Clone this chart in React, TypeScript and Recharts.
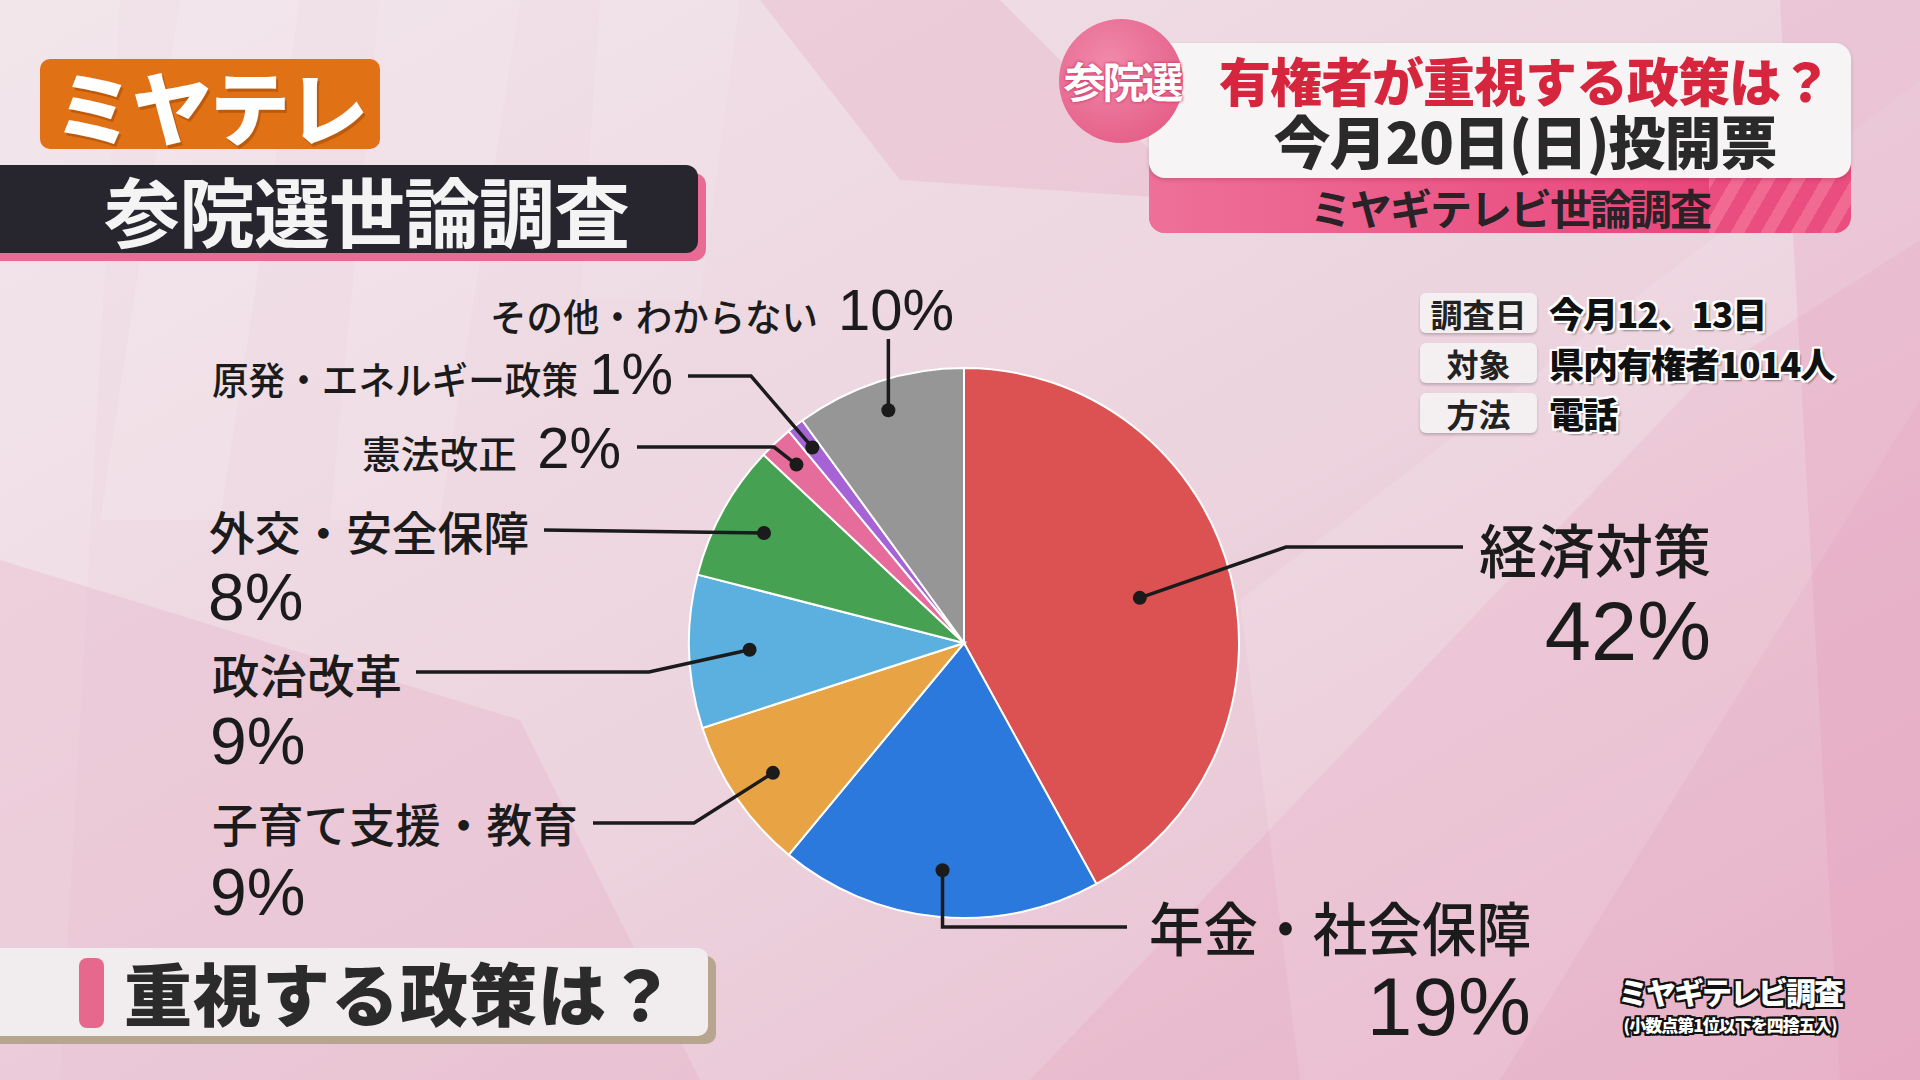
import React from "react"
import { PieChart, Pie, Cell } from "recharts"

// 重視する政策（ミヤギテレビ世論調査）
const policies = ["経済対策", "年金・社会保障", "子育て支援・教育", "政治改革", "外交・安全保障", "憲法改正", "原発・エネルギー政策", "その他・わからない"]
const shares = [42, 19, 9, 9, 8, 2, 1, 10]
const sliceColors = ["#dc5152", "#2b79dc", "#e8a444", "#5cb0df", "#46a152", "#e66c9c", "#a563d6", "#969696"]

const surveyRows = [
  ["調査日", "今月12、13日"],
  ["対象", "県内有権者1014人"],
  ["方法", "電話"],
]

const data = policies.map((name, i) => ({ name, value: shares[i] }))

// label placement (screen layout only)
type Pt = [number | null, number]
type Layout = {
  k: number
  pts: Pt[]
  nx: number // name x (anchor)
  ny: number
  nAnchor: "start" | "end"
  nw: number // name width
  px: number
  py: number
  pAnchor: "start" | "end"
  nameSize: number
  pctSize: number
}
const labelLayout: Layout[] = [
  { k: 0.66, pts: [[1286, 547], [1463, 547]], nx: 1479, ny: 548, nAnchor: "start", nw: 232, px: 1711, py: 631, pAnchor: "end", nameSize: 58, pctSize: 83 },
  { k: 0.83, pts: [[null, 927], [1127, 927]], nx: 1149, ny: 926, nAnchor: "start", nw: 382, px: 1531, py: 1006, pAnchor: "end", nameSize: 58, pctSize: 82 },
  { k: 0.84, pts: [[694, 823], [593, 823]], nx: 212, ny: 822, nAnchor: "start", nw: 366, px: 210, py: 892, pAnchor: "start", nameSize: 46, pctSize: 66 },
  { k: 0.78, pts: [[649, 672], [416, 672]], nx: 212, ny: 673, nAnchor: "start", nw: 190, px: 210, py: 741, pAnchor: "start", nameSize: 46, pctSize: 66 },
  { k: 0.83, pts: [[544, 530]], nx: 209, ny: 530, nAnchor: "start", nw: 320, px: 208, py: 597, pAnchor: "start", nameSize: 46, pctSize: 66 },
  { k: 0.89, pts: [[774, 447], [637, 447]], nx: 362, ny: 451, nAnchor: "start", nw: 155, px: 621, py: 447, pAnchor: "end", nameSize: 38, pctSize: 58 },
  { k: 0.9, pts: [[751, 376], [688, 376]], nx: 212, ny: 377, nAnchor: "start", nw: 366, px: 673, py: 373, pAnchor: "end", nameSize: 38, pctSize: 58 },
  { k: 0.89, pts: [[null, 339]], nx: 490, ny: 314, nAnchor: "start", nw: 328, px: 954, py: 309, pAnchor: "end", nameSize: 38, pctSize: 58 },
]

const RAD = Math.PI / 180
const jpFont = '"Noto Sans CJK JP", "Noto Sans", sans-serif'
const numFont = '"Liberation Sans", Arial, sans-serif'
const ink = "#1b1b1b"

const renderLabel = (props: any) => {
  const { cx, cy, midAngle, outerRadius, index, value, name } = props
  const L = labelLayout[index]
  const r = outerRadius * L.k
  const dx = cx + r * Math.cos(-midAngle * RAD)
  const dy = cy + r * Math.sin(-midAngle * RAD)
  const pts = [[dx, dy], ...L.pts.map(([x, y]) => [x === null ? dx : x, y])]
  return (
    <g key={`lbl-${index}`}>
      <polyline points={pts.map((p) => p.join(",")).join(" ")} fill="none" stroke={ink} strokeWidth={3.5} />
      <circle cx={dx} cy={dy} r={7} fill={ink} />
      <text
        x={L.nx}
        y={L.ny}
        textAnchor={L.nAnchor}
        dominantBaseline="central"
        fill={ink}
        fontFamily={jpFont}
        fontWeight={500}
        fontSize={L.nameSize}
        textLength={L.nw}
        lengthAdjust="spacingAndGlyphs"
      >
        {name}
      </text>
      <text x={L.px} y={L.py} textAnchor={L.pAnchor} dominantBaseline="central" fill={ink} fontFamily={numFont} fontSize={L.pctSize}>
        {value}%
      </text>
    </g>
  )
}

const Background = () => (
  <svg width={1920} height={1080} style={{ position: "absolute", left: 0, top: 0 }}>
    <defs>
      <linearGradient id="bg" x1="0" y1="0" x2="1" y2="1">
        <stop offset="0%" stopColor="#f1e3e9" />
        <stop offset="55%" stopColor="#ecd3de" />
        <stop offset="100%" stopColor="#e8b8cc" />
      </linearGradient>
    </defs>
    <rect width={1920} height={1080} fill="url(#bg)" />
    <polygon points="0,0 120,0 60,1080 0,1080" fill="#ffffff" opacity={0.12} />
    <polygon points="180,0 300,0 220,520 100,520" fill="#ffffff" opacity={0.14} />
    <polygon points="380,0 520,0 440,520 330,520" fill="#ffffff" opacity={0.12} />
    <polygon points="600,0 740,0 700,300 580,300" fill="#ffffff" opacity={0.1} />
    <polygon points="0,560 520,720 700,1080 0,1080" fill="#e6a9c2" opacity={0.28} />
    <polygon points="1030,1080 1700,380 1920,240 1920,1080" fill="#e8a4c0" opacity={0.3} />
    <polygon points="1240,600 1920,80 1920,400 1500,1080 1300,1080" fill="#ffffff" opacity={0.12} />
    <polygon points="760,0 1000,0 1200,200 900,180" fill="#e8b0c6" opacity={0.35} />
    <polygon points="1780,0 1920,0 1920,1080 1840,1080" fill="#e598b8" opacity={0.25} />
  </svg>
)

const whiteEdge = "2px 0 0 #fff, -2px 0 0 #fff, 0 2px 0 #fff, 0 -2px 0 #fff, 2px 2px 0 #fff, -2px -2px 0 #fff, 2px -2px 0 #fff, -2px 2px 0 #fff, 3px 3px 2px rgba(0,0,0,0.4)"
const blackEdge = "2px 0 0 #111, -2px 0 0 #111, 0 2px 0 #111, 0 -2px 0 #111, 2px 2px 0 #111, -2px -2px 0 #111, 2px -2px 0 #111, -2px 2px 0 #111"

export default function App() {
  return (
    <div style={{ position: "fixed", left: 0, top: 0, width: 1920, height: 1080, overflow: "hidden", fontFamily: jpFont }}>
      <Background />

      <div style={{ position: "absolute", left: 0, top: 0 }}>
        <PieChart width={1920} height={1080}>
          <Pie
            data={data}
            dataKey="value"
            nameKey="name"
            cx={959}
            cy={638}
            outerRadius={275}
            startAngle={90}
            endAngle={-270}
            stroke="#ffffff"
            strokeWidth={2}
            label={renderLabel}
            labelLine={false}
            isAnimationActive={false}
          >
            {data.map((d, i) => (
              <Cell key={d.name} fill={sliceColors[i]} />
            ))}
          </Pie>
        </PieChart>
      </div>

      {/* ミヤテレ logo */}
      <div style={{ position: "absolute", left: 40, top: 59, width: 340, height: 90, background: "#e07114", borderRadius: 10, color: "#fff", fontWeight: 900, fontSize: 80, lineHeight: "90px", textAlign: "center", letterSpacing: -2, textShadow: "2px 3px 0 rgba(120,50,0,0.35)" }}>
        ミヤテレ
      </div>

      {/* 参院選世論調査 banner */}
      <div style={{ position: "absolute", left: 0, top: 173, width: 706, height: 88, background: "#e96a92", borderRadius: "0 12px 12px 0" }} />
      <div style={{ position: "absolute", left: 0, top: 165, width: 698, height: 88, background: "#27252d", borderRadius: "0 12px 12px 0", color: "#f4f4f4", fontWeight: 700, fontSize: 76, lineHeight: "88px", paddingLeft: 104, boxSizing: "border-box", letterSpacing: -1 }}>
        参院選世論調査
      </div>

      {/* top right title card */}
      <div style={{ position: "absolute", left: 1149, top: 120, width: 702, height: 113, borderRadius: 16, background: "repeating-linear-gradient(120deg, #ea4d7f 0px, #ea4d7f 14px, #f06a92 14px, #f06a92 26px)" }} />
      <div style={{ position: "absolute", left: 1149, top: 120, width: 560, height: 113, borderRadius: "16px 0 0 16px", background: "linear-gradient(90deg, #ee7099, #e8467a)" }} />
      <div style={{ position: "absolute", left: 1149, top: 184, width: 702, height: 46, textAlign: "center", fontWeight: 700, fontSize: 42, lineHeight: "46px", color: "#2a2226", paddingLeft: 20, boxSizing: "border-box", letterSpacing: -2 }}>
        ミヤギテレビ世論調査
      </div>
      <div style={{ position: "absolute", left: 1149, top: 43, width: 702, height: 135, borderRadius: 16, background: "#f7f4f5", boxShadow: "0 2px 4px rgba(0,0,0,0.15)" }} />
      <div style={{ position: "absolute", left: 1059, top: 19, width: 124, height: 124, borderRadius: "50%", background: "radial-gradient(circle at 40% 35%, #f08aab, #e2537f)" }} />
      <div style={{ position: "absolute", left: 1052, top: 52, width: 140, textAlign: "center", fontWeight: 700, fontSize: 42, lineHeight: "56px", color: "#fff", letterSpacing: -3, textShadow: "0 0 3px #d23c6a, 0 0 3px #d23c6a" }}>
        参院選
      </div>
      <div style={{ position: "absolute", left: 1200, top: 54, width: 650, textAlign: "center", fontWeight: 900, fontSize: 52, lineHeight: "52px", color: "#d5263e", letterSpacing: -1 }}>
        有権者が重視する政策は？
      </div>
      <div style={{ position: "absolute", left: 1200, top: 111, width: 650, textAlign: "center", fontWeight: 900, fontSize: 57, lineHeight: "57px", color: "#2a2a2a", letterSpacing: -1 }}>
        今月20日(日)投開票
      </div>

      {/* survey info */}
      {surveyRows.map(([k, v], i) => (
        <React.Fragment key={k}>
          <div style={{ position: "absolute", left: 1420, top: 293 + i * 50, width: 117, height: 40, borderRadius: 6, background: "#f4f0f1", boxShadow: "0 2px 3px rgba(0,0,0,0.2)", textAlign: "center", fontWeight: 700, fontSize: 32, lineHeight: "40px", color: "#222" }}>
            {k}
          </div>
          <div style={{ position: "absolute", left: 1549, top: 293 + i * 50, height: 40, fontWeight: 900, fontSize: 35, lineHeight: "40px", color: "#111", letterSpacing: -1, textShadow: whiteEdge }}>
            {v}
          </div>
        </React.Fragment>
      ))}

      {/* bottom left caption */}
      <div style={{ position: "absolute", left: 0, top: 956, width: 716, height: 88, background: "#b7a58f", borderRadius: "0 10px 10px 0" }} />
      <div style={{ position: "absolute", left: 0, top: 948, width: 708, height: 88, background: "#f1eced", borderRadius: "0 10px 10px 0" }} />
      <div style={{ position: "absolute", left: 79, top: 958, width: 25, height: 70, background: "#e7688d", borderRadius: 8 }} />
      <div style={{ position: "absolute", left: 124, top: 948, height: 88, fontWeight: 900, fontSize: 68, lineHeight: "88px", color: "#2b2b2b", letterSpacing: 1 }}>
        重視する政策は？
      </div>

      {/* source note */}
      <div style={{ position: "absolute", left: 1600, top: 974, width: 260, height: 34, textAlign: "center", color: "#fff", fontWeight: 900, fontSize: 30, lineHeight: "34px", letterSpacing: -2, textShadow: blackEdge }}>
        ミヤギテレビ調査
      </div>
      <div style={{ position: "absolute", left: 1600, top: 1014, width: 260, height: 22, textAlign: "center", color: "#fff", fontWeight: 900, fontSize: 17, lineHeight: "22px", letterSpacing: -1, textShadow: blackEdge }}>
        (小数点第1位以下を四捨五入)
      </div>
    </div>
  )
}
